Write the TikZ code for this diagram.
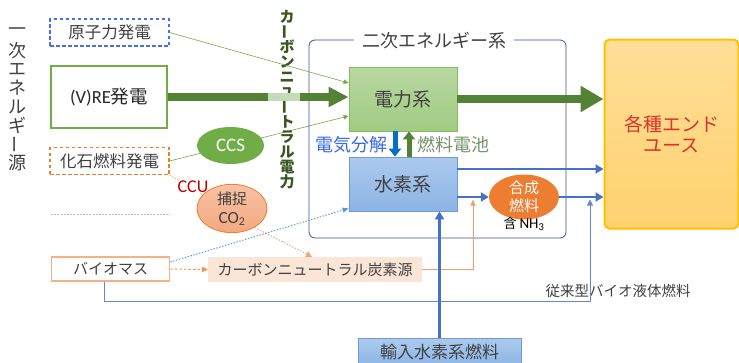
\documentclass[tikz,border=0pt]{standalone}
\usepackage{fontspec}
\setmainfont{Noto Sans CJK JP}
\newfontfamily\lat{Carlito}
\usetikzlibrary{arrows.meta,shapes.geometric,backgrounds}
\definecolor{tgray}{RGB}{64,64,64}
\definecolor{dgreen}{RGB}{84,130,53}
\definecolor{lgreen}{RGB}{112,173,71}
\definecolor{segreen}{RGB}{197,218,184}
\definecolor{vtgreen}{RGB}{56,87,35}
\definecolor{nucblue}{RGB}{70,110,230}
\definecolor{orng}{RGB}{237,125,49}
\definecolor{lorng}{RGB}{244,177,131}
\definecolor{peach}{RGB}{251,229,214}
\definecolor{ablue}{RGB}{68,114,196}
\definecolor{biol}{RGB}{100,135,205}
\definecolor{dotblue}{RGB}{91,155,213}
\definecolor{sysblue}{RGB}{47,85,151}
\definecolor{elblue}{RGB}{55,105,230}
\definecolor{dblue}{RGB}{0,112,192}
\definecolor{fcgreen}{RGB}{118,146,104}
\definecolor{ccured}{RGB}{192,0,0}
\definecolor{endred}{RGB}{220,50,40}
\definecolor{endborder}{RGB}{255,192,0}
\definecolor{eutop}{RGB}{255,222,152}
\definecolor{eubot}{RGB}{255,210,112}
\definecolor{hbord}{RGB}{110,155,215}
\definecolor{hgtop}{RGB}{172,202,238}
\definecolor{hgbot}{RGB}{140,180,228}
\definecolor{pbord}{RGB}{130,190,90}
\definecolor{pgtop}{RGB}{185,215,162}
\definecolor{pgbot}{RGB}{160,203,130}
\definecolor{cotop}{RGB}{248,195,165}
\definecolor{cobot}{RGB}{243,168,128}
\newcommand{\fz}[2]{\fontsize{#1}{#2}\selectfont}
\begin{document}
\begin{tikzpicture}[x=1pt,y=-1pt,
  box/.style={rectangle,inner sep=0pt,align=center,text=tgray},
  thin green/.style={lgreen,line width=0.6pt,-{Triangle[length=5pt,width=4.5pt]}},
  blue flow/.style={ablue,line width=2.6pt,-{Triangle[length=8pt,width=9pt]}},
  vchar/.style={inner sep=0pt}]
\useasboundingbox (0,0) rectangle (739,362);

% vertical labels
\foreach \c [count=\i] in {一,次,エ,ネ,ル,ギ,{\rotatebox[origin=c]{90}{ー}},源}
  \node[vchar,text=tgray,font=\fz{18}{18}] (pe\i) at (18,{32+18.7*(\i-1)}) {\c};
\foreach \c [count=\i] in {カ,{\rotatebox[origin=c]{90}{ー}},ボ,ン,ニ,ュ,{\rotatebox[origin=c]{90}{ー}},ト,ラ,ル,電,力}
  \node[vchar,text=vtgreen,font=\bfseries\fz{15}{15}] (cn\i) at (287,{17+15*(\i-1)}) {\c};

% sources
\node[box,draw=nucblue,line width=1.1pt,dash pattern=on 3.5pt off 2.5pt,minimum width=119pt,minimum height=27pt,font=\fz{16.5}{20}] (nuc) at (109.5,32.5) {原子力発電};
\node[box,draw=lgreen,line width=2.2pt,minimum width=116pt,minimum height=62pt,font=\fz{18.5}{22},text=black!85] (vre) at (109,97) {{\lat (V)RE}発電};
\node[box,draw=orng,line width=1.1pt,dash pattern=on 3.5pt off 2.5pt,minimum width=119pt,minimum height=27pt,font=\fz{16.5}{20}] (fossil) at (109.5,161) {化石燃料発電};
\draw[gray!55,line width=0.8pt,dash pattern=on 2pt off 1.2pt] (51,214) -- (170,214);
\node[box,draw=lorng,line width=1.6pt,minimum width=118pt,minimum height=24pt,font=\fz{15}{18}] (bio) at (110.5,269) {バイオマス};

\node[ellipse,fill=lgreen,inner sep=0pt,minimum width=67pt,minimum height=37pt,text=white,font=\lat\fz{19}{22}] (ccs) at (230.5,145.5) {CCS};
\node[text=ccured,font=\lat\fz{18}{20},fill=white,inner sep=0.3pt] (ccu) at (193,187) {CCU};
\node[ellipse,draw=orng,line width=0.8pt,top color=cotop,bottom color=cobot,inner sep=0pt,minimum width=70pt,minimum height=43pt,align=center,text=tgray,font=\fz{15}{19}] (co2) at (232,208.5) {捕捉\\{\lat\fontsize{17}{19}\selectfont CO\textsubscript{2}}};

% secondary system
\node[draw=sysblue,line width=0.8pt,rounded corners=6pt,minimum width=257pt,minimum height=198pt,inner sep=0pt] (sys) at (437.5,139) {};
\node[fill=white,text=tgray,font=\fz{18}{20},inner xsep=8pt,inner ysep=1pt] (systitle) at (434,41) {二次エネルギー系};
\node[box,draw=pbord,line width=0.8pt,top color=pgtop,bottom color=pgbot,minimum width=108pt,minimum height=64pt,font=\fz{19}{22}] (power) at (403,99) {電力系};
\node[box,draw=hbord,line width=0.8pt,top color=hgtop,bottom color=hgbot,minimum width=108pt,minimum height=54pt,font=\fz{19}{22}] (h2) at (403,184) {水素系};
\node[anchor=east,text=elblue,font=\fz{18}{20},inner sep=0pt] (elec) at (388,145) {電気分解};
\node[anchor=west,text=fcgreen,font=\fz{18}{20},inner sep=0pt] (fc) at (417,145) {燃料電池};
\node[ellipse,fill=orng,inner sep=0pt,minimum width=70pt,minimum height=39pt,text=white,font=\fz{15}{18},align=center] (syn) at (524,197) {合成\\燃料};
\node[font=\fz{13}{15},text=black,inner sep=0pt] (nh3) at (524,224) {含 {\lat\fontsize{15}{15}\selectfont NH\textsubscript{3}}};

\node[box,draw=endborder,line width=2pt,rounded corners=5pt,top color=eutop,bottom color=eubot,minimum width=134pt,minimum height=189pt,text=endred,font=\fz{19}{21}] (enduse) at (671.5,134) {各種エンド\\ユース};
\node[box,fill=peach,minimum width=214pt,minimum height=25pt,font=\fz{15}{18}] (carbon) at (315,269.5) {カーボンニュートラル炭素源};
\node[box,draw=hbord,line width=0.8pt,top color=hgtop,bottom color=hgbot,minimum width=163pt,minimum height=28pt,font=\fz{17}{20}] (imp) at (439.5,352) {輸入水素系燃料};
\node[text=tgray,font=\fz{14.5}{17},inner sep=0pt] (conv) at (618,291) {従来型バイオ液体燃料};

\coordinate (synin) at (473,199.5);
\coordinate (bioin) at (590,199.5);
\coordinate (biocorner) at (590,301);

% connectors under nodes
\begin{scope}[on background layer]
\draw[thin green] (fossil.east) -- ([yshift=-17pt]power.west);
\draw[lorng,line width=0.9pt,dash pattern=on 1.5pt off 1.5pt] (fossil.south east) -- (co2.155);
\end{scope}

\draw[thin green] (nuc.east) -- ([yshift=16pt]power.west);
\draw[orng!70,line width=0.9pt,dash pattern=on 1.5pt off 1.5pt,-{Triangle[length=6pt,width=6pt]}] (co2.-40) -- ([xshift=-3pt]carbon.north);
\draw[orng!80,line width=1pt,dash pattern=on 2.5pt off 2pt,-{Triangle[length=6pt,width=6pt]}] (bio.east) -- (carbon.west);
\draw[dotblue,line width=0.9pt,dash pattern=on 1.5pt off 1.5pt,-{Triangle[length=6pt,width=5pt]}] ([yshift=7pt]bio.east) -- ([yshift=3pt]h2.south west);
\draw[biol,line width=1pt,-{Triangle[length=6pt,width=6pt]}] ([xshift=-6.5pt]bio.south) |- (biocorner) -- (bioin);
\draw[orng!75,line width=0.9pt,-{Triangle[length=6pt,width=5pt]}] (carbon.east) -| (synin);

\draw[ablue,line width=3.3pt,-{Triangle[length=8pt,width=9pt]}] (imp.north) -- (imp.north |- h2.south);
\draw[blue flow] ([yshift=15pt]h2.east) -- ([yshift=15pt]h2.east -| enduse.west);
\draw[blue flow] ([yshift=-13pt]h2.east) -- (syn.west);
\draw[blue flow] (syn.east) -- (syn.east -| enduse.west);

\draw[dblue,line width=5pt,-{Triangle[length=8pt,width=12pt]}] ([xshift=-8pt]power.south) -- ([xshift=-8pt]h2.north);
\draw[dgreen,line width=5pt,-{Triangle[length=8pt,width=12pt]}] ([xshift=6pt]h2.north) -- ([xshift=6pt]power.south);

\draw[dgreen,line width=7.5pt,-{Triangle[length=20pt,width=19pt]}] (vre.east) -- (vre.east -| power.west);
\fill[segreen] (268,93.25) rectangle (300,100.75);
\draw[dgreen,line width=8pt,-{Triangle[length=23pt,width=25pt]}] (power.east) -- (power.east -| enduse.west);
\end{tikzpicture}
\end{document}
